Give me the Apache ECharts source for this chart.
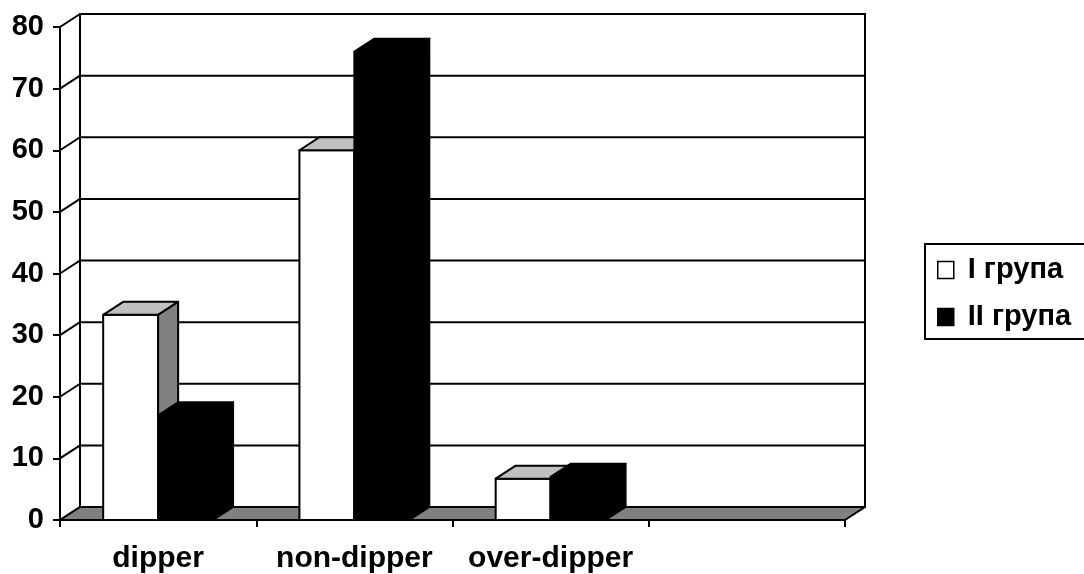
<!DOCTYPE html>
<html>
<head>
<meta charset="utf-8">
<title>dipper / non-dipper / over-dipper</title>
<script src="https://cdn.jsdelivr.net/npm/echarts@6/dist/echarts.min.js"></script>
<style>
  html, body { margin: 0; padding: 0; background: #fff; }
  #chart { width: 1084px; height: 574px; }
</style>
</head>
<body>
<div id="chart"></div>
<script>
// Categories along the floor (the last slot is left empty)
const categories = ['dipper', 'non-dipper', 'over-dipper', ''];
// Share of patients, %
const groupI = [33.3, 60, 6.7, null];
const groupII = [17, 76, 7, null];
// Value axis ticks
const yTicks = [0, 10, 20, 30, 40, 50, 60, 70, 80];

const seriesNames = ['I група', 'II група'];
const FONT = '"Liberation Sans", Arial, sans-serif';

// 3D depth of the pseudo-perspective, in pixels
const DX = 20, DY = 13;
const LINE = 2;

const chart = echarts.init(document.getElementById('chart'), null, { renderer: 'canvas' });

function poly(points, fill) {
  return {
    type: 'polygon',
    shape: { points: points },
    style: { fill: fill, stroke: '#000', lineWidth: LINE, lineJoin: 'round' }
  };
}
function line(x1, y1, x2, y2) {
  return {
    type: 'line',
    shape: { x1: x1, y1: y1, x2: x2, y2: y2 },
    style: { stroke: '#000', lineWidth: LINE }
  };
}

// Back wall, left wall and the grid lines drawn on them
function renderWall(params, api) {
  const cs = params.coordSys;
  const v = api.value(1);
  const y = api.coord([0, v])[1];
  const xL = cs.x, xR = cs.x + cs.width;
  const children = [];
  if (params.dataIndex === 0) {
    const yTop = api.coord([0, yTicks[yTicks.length - 1]])[1];
    children.push({
      type: 'rect',
      shape: { x: xL + DX, y: yTop - DY, width: cs.width, height: y - yTop },
      style: { fill: '#fff', stroke: '#000', lineWidth: LINE }
    });
  }
  children.push(line(xL, y, xL + DX, y - DY));
  if (v !== 0) children.push(line(xL + DX, y - DY, xR + DX, y - DY));
  return { type: 'group', children: children };
}

// Grey floor slab
function renderFloor(params, api) {
  const cs = params.coordSys;
  const y = api.coord([0, 0])[1];
  const xL = cs.x, xR = cs.x + cs.width;
  return poly([[xL, y], [xR, y], [xR + DX, y - DY], [xL + DX, y - DY]], '#808080');
}

// A column with front, top and side faces
function columnRenderer(slot, front, topFill, sideFill) {
  return function (params, api) {
    const idx = api.value(0);
    const v = api.value(1);
    if (v == null || isNaN(v)) return null;
    const top = api.coord([idx, v]);
    const base = api.coord([idx, 0]);
    const w = api.size([1, 0])[0] * 0.28;
    const x0 = top[0] + slot * w, x1 = x0 + w;
    const yT = top[1], yB = base[1];
    return {
      type: 'group',
      children: [
        poly([[x0, yT], [x1, yT], [x1, yB], [x0, yB]], front),
        poly([[x0, yT], [x0 + DX, yT - DY], [x1 + DX, yT - DY], [x1, yT]], topFill),
        poly([[x1, yT], [x1 + DX, yT - DY], [x1 + DX, yB - DY], [x1, yB]], sideFill)
      ]
    };
  };
}

const option = {
  backgroundColor: '#fff',
  animation: false,
  grid: { left: 60, top: 27, width: 785, height: 493, containLabel: false },
  legend: {
    orient: 'vertical',
    left: 925,
    top: 244,
    icon: 'rect',
    itemWidth: 16,
    itemHeight: 17,
    itemGap: 17,
    padding: [11, 40, 7, 12],
    borderColor: '#000',
    borderWidth: LINE,
    borderRadius: 0,
    backgroundColor: '#fff',
    selectedMode: false,
    textStyle: {
      fontFamily: FONT, fontSize: 29, fontWeight: 'bold', color: '#000',
      lineHeight: 30, padding: [0, 0, 0, 9]
    },
    data: [
      { name: seriesNames[0], itemStyle: { color: '#fff', borderColor: '#000', borderWidth: 1.5 } },
      { name: seriesNames[1], itemStyle: { color: '#000', borderColor: '#000', borderWidth: 1.5 } }
    ]
  },
  xAxis: {
    type: 'category',
    data: categories,
    boundaryGap: true,
    axisLine: { show: true, lineStyle: { color: '#000', width: LINE } },
    axisTick: { show: true, length: 7, alignWithLabel: false, lineStyle: { color: '#000', width: LINE } },
    axisLabel: {
      show: true, interval: 0, margin: 24,
      fontFamily: FONT, fontSize: 30, fontWeight: 'bold', color: '#000'
    },
    splitLine: { show: false }
  },
  yAxis: {
    type: 'value',
    min: yTicks[0],
    max: yTicks[yTicks.length - 1],
    interval: yTicks[1] - yTicks[0],
    axisLine: { show: true, lineStyle: { color: '#000', width: LINE } },
    axisTick: { show: true, length: 7, lineStyle: { color: '#000', width: LINE } },
    axisLabel: {
      show: true, margin: 16,
      fontFamily: FONT, fontSize: 29, fontWeight: 'bold', color: '#000'
    },
    splitLine: { show: false }
  },
  series: [
    {
      type: 'custom', name: 'wall', z: 1, silent: true,
      renderItem: renderWall,
      data: yTicks.map(function (t) { return [0, t]; })
    },
    {
      type: 'custom', name: 'floor', z: 2, silent: true,
      renderItem: renderFloor,
      data: [[0, 0]]
    },
    {
      type: 'custom', name: seriesNames[0], z: 3,
      itemStyle: { color: '#fff', borderColor: '#000' },
      renderItem: columnRenderer(-1, '#ffffff', '#c0c0c0', '#808080'),
      data: groupI.map(function (v, i) { return [i, v]; })
    },
    {
      type: 'custom', name: seriesNames[1], z: 4,
      itemStyle: { color: '#000', borderColor: '#000' },
      renderItem: columnRenderer(0, '#000000', '#000000', '#000000'),
      data: groupII.map(function (v, i) { return [i, v]; })
    }
  ]
};

chart.setOption(option);
</script>
</body>
</html>
